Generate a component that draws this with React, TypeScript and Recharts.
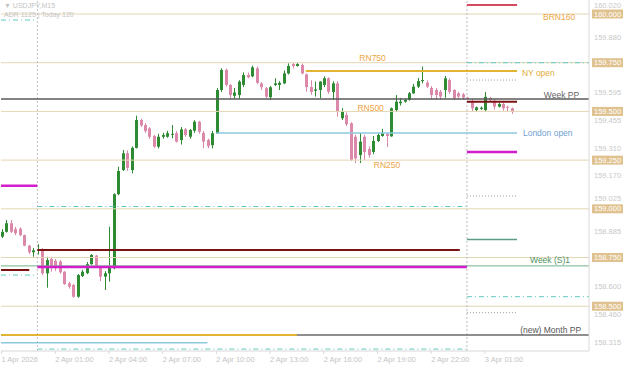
import { Bar, ComposedChart, ReferenceDot, ReferenceLine, XAxis, YAxis } from "recharts";

// USDJPY M15, hours counted from 2 Apr 00:00 (server time)
const FIRST_HOUR = -2;
const BAR_HOURS = 0.25;
const X_MIN = -2.03;
const X_MAX = 30.82;

const opens = [
  158.857, 158.882, 158.926, 158.896, 158.898, 158.865, 158.811, 158.777, 158.784, 158.789,
  158.669, 158.742, 158.732, 158.729, 158.677, 158.618, 158.609, 158.549, 158.655, 158.67,
  158.716, 158.76, 158.703, 158.652, 158.669, 158.695, 159.075, 159.199, 159.285, 159.199,
  159.313, 159.456, 159.43, 159.413, 159.374, 159.319, 159.37, 159.37, 159.383, 159.388,
  159.353, 159.408, 159.37, 159.401, 159.447, 159.39, 159.353, 159.327, 159.388, 159.61,
  159.713, 159.636, 159.58, 159.584, 159.636, 159.687, 159.68, 159.721, 159.644, 159.619,
  159.573, 159.636, 159.636, 159.644, 159.695, 159.743, 159.733, 159.738, 159.69, 159.625,
  159.606, 159.61, 159.636, 159.67, 159.6, 159.644, 159.465, 159.482, 159.439, 159.37,
  159.276, 159.37, 159.307, 159.292, 159.348, 159.374, 159.384, 159.372, 159.507, 159.542,
  159.55, 159.559, 159.593, 159.627, 159.656, 159.648, 159.62, 159.61, 159.601, 159.61,
  159.661, 159.61, 159.593, 159.588, 159.571, 159.55, 159.507, 159.513, 159.507, 159.569,
  159.555, 159.524, 159.538, 159.524, 159.516,
];
const highs = [
  158.896, 158.943, 158.943, 158.907, 158.905, 158.868, 158.815, 158.799, 158.818, 158.799,
  158.754, 158.754, 158.742, 158.737, 158.68, 158.625, 158.614, 158.665, 158.687, 158.727,
  158.768, 158.763, 158.706, 158.68, 158.908, 159.08, 159.216, 159.302, 159.3, 159.32,
  159.478, 159.463, 159.44, 159.42, 159.38, 159.385, 159.39, 159.4, 159.43, 159.4,
  159.42, 159.415, 159.41, 159.455, 159.452, 159.4, 159.36, 159.4, 159.62, 159.721,
  159.72, 159.64, 159.62, 159.66, 159.7, 159.7, 159.735, 159.73, 159.65, 159.625,
  159.63, 159.67, 159.655, 159.71, 159.747, 159.75, 159.75, 159.745, 159.695, 159.66,
  159.653, 159.655, 159.68, 159.675, 159.655, 159.655, 159.517, 159.495, 159.445, 159.38,
  159.389, 159.38, 159.32, 159.374, 159.39, 159.41, 159.39, 159.52, 159.584, 159.569,
  159.565, 159.6, 159.641, 159.672, 159.73, 159.66, 159.63, 159.62, 159.61, 159.682,
  159.67, 159.615, 159.6, 159.595, 159.575, 159.564, 159.525, 159.525, 159.6, 159.575,
  159.56, 159.545, 159.545, 159.53, 159.52,
];
const lows = [
  158.85, 158.878, 158.876, 158.865, 158.86, 158.808, 158.768, 158.754, 158.766, 158.66,
  158.595, 158.677, 158.68, 158.667, 158.609, 158.59, 158.544, 158.544, 158.65, 158.665,
  158.713, 158.699, 158.629, 158.583, 158.626, 158.69, 159.07, 159.194, 159.195, 159.182,
  159.31, 159.42, 159.39, 159.36, 159.313, 159.31, 159.36, 159.365, 159.362, 159.34,
  159.33, 159.37, 159.36, 159.39, 159.385, 159.311, 159.311, 159.31, 159.385, 159.6,
  159.627, 159.567, 159.565, 159.567, 159.625, 159.67, 159.675, 159.64, 159.61, 159.567,
  159.559, 159.63, 159.61, 159.64, 159.69, 159.72, 159.73, 159.69, 159.601, 159.585,
  159.576, 159.567, 159.625, 159.59, 159.56, 159.473, 159.456, 159.425, 159.245, 159.235,
  159.235, 159.251, 159.262, 159.28, 159.343, 159.37, 159.317, 159.37, 159.497, 159.53,
  159.545, 159.555, 159.59, 159.62, 159.644, 159.62, 159.564, 159.559, 159.56, 159.57,
  159.59, 159.559, 159.565, 159.56, 159.56, 159.502, 159.497, 159.507, 159.497, 159.55,
  159.51, 159.52, 159.504, 159.497, 159.487,
];
const closes = [
  158.882, 158.926, 158.882, 158.874, 158.865, 158.811, 158.777, 158.787, 158.789, 158.669,
  158.737, 158.708, 158.695, 158.674, 158.614, 158.6, 158.549, 158.66, 158.677, 158.716,
  158.763, 158.703, 158.652, 158.669, 158.703, 159.075, 159.194, 159.285, 159.21, 159.313,
  159.456, 159.428, 159.399, 159.37, 159.319, 159.37, 159.379, 159.388, 159.385, 159.345,
  159.408, 159.379, 159.405, 159.447, 159.396, 159.345, 159.322, 159.388, 159.61, 159.713,
  159.636, 159.584, 159.597, 159.653, 159.687, 159.675, 159.726, 159.647, 159.624, 159.576,
  159.624, 159.644, 159.647, 159.695, 159.733, 159.733, 159.743, 159.695, 159.625, 159.6,
  159.613, 159.653, 159.67, 159.601, 159.644, 159.498, 159.498, 159.434, 159.251, 159.259,
  159.345, 159.292, 159.276, 159.348, 159.379, 159.388, 159.374, 159.516, 159.55, 159.55,
  159.559, 159.593, 159.627, 159.656, 159.661, 159.627, 159.584, 159.584, 159.576, 159.67,
  159.601, 159.567, 159.576, 159.571, 159.565, 159.516, 159.521, 159.519, 159.575, 159.559,
  159.525, 159.538, 159.516, 159.519, 159.499,
];

const xTicks = [-2, 1, 4, 7, 10, 13, 16, 19, 22, 25];
const xTickLabels = [
  "1 Apr 2026", "2 Apr 01:00", "2 Apr 04:00", "2 Apr 07:00", "2 Apr 10:00",
  "2 Apr 13:00", "2 Apr 16:00", "2 Apr 19:00", "2 Apr 22:00", "3 Apr 01:00",
];
const priceTicks = [160.02, 159.88, 159.595, 159.455, 159.31, 159.17, 159.025, 158.885, 158.6, 158.46, 158.315];
const roundLevels = [160, 159.75, 159.5, 159.25, 159, 158.75, 158.5];
const daySeparators = [0, 24];

// [price, from hour, to hour]
const tealDashDot = [
  [159.969, -2.03, -0.1], [159.75, 24, X_MAX], [159.012, 0, 24],
  [158.549, 24, X_MAX], [158.66, -2.03, -0.1], [158.28, 0, 24],
];
const grayDotted = [[159.661, 24, 26.8], [159.066, 24, 26.8], [158.467, 24, 26.8]];
const redLines = [[160.046, 24, 26.8]];
const maroonLines = [[159.549, 24, 26.8], [158.789, 0, 23.6], [158.686, -2.03, -0.45]];
const goldLines = [[159.707, 15, 26.8], [158.352, -2.03, 14.5]];
const blueLines = [[159.389, 10, 26.8], [158.313, -2.03, 9.5]];
const magentaLines = [[159.292, 24, 26.8], [159.119, -2.03, 0], [158.701, 0, 24]];
const greenShort = [[158.843, 24, 26.8]];
const weekPP = 159.564;
const weekS1 = 158.707;
const monthPP = 158.352;

const annoText = ["BRN160", "NY open", "Week PP", "London open", "Week (S)1", "(new)  Month PP", "RN750", "RN500", "RN250"];
const annoHour = [28.25, 27.07, 30.27, 27.13, 29.76, 30.38, 18.73, 18.62, 19.54];
const annoPrice = [160, 159.707, 159.564, 159.389, 158.707, 158.352, 159.75, 159.5, 159.25];
const annoStyle = [
  { fill: "#eda544", anchor: "start", dy: 2.5 },
  { fill: "#e2ad3a", anchor: "start", dy: 2 },
  { fill: "#666", anchor: "end", dy: -3.5 },
  { fill: "#6f9fd2", anchor: "start", dy: 0 },
  { fill: "#4f8f5f", anchor: "end", dy: -6 },
  { fill: "#555", anchor: "end", dy: -5 },
  { fill: "#eda544", anchor: "middle", dy: -4.5 },
  { fill: "#eda544", anchor: "middle", dy: -3 },
  { fill: "#eda544", anchor: "middle", dy: 4.5 },
];

const bars = opens.map((open, i) => ({
  t: FIRST_HOUR + i * BAR_HOURS,
  open,
  high: highs[i],
  low: lows[i],
  close: closes[i],
}));

const UP = "#2e8b34";
const DOWN = "#dc88aa";
const FONT = "'Liberation Sans', Arial, sans-serif";

function Candle(props: any) {
  const { x, y, width, height, payload } = props;
  const top = Math.min(y, y + height);
  const h = Math.abs(height);
  const k = h / (payload.high - payload.low);
  const cx = Math.round(x + width / 2) + 0.5;
  const yo = top + (payload.high - payload.open) * k;
  const yc = top + (payload.high - payload.close) * k;
  const color = payload.close >= payload.open ? UP : DOWN;
  return (
    <g>
      <line x1={cx} x2={cx} y1={top} y2={top + h} stroke={color} strokeWidth={1} />
      <rect x={cx - 1.5} y={Math.min(yo, yc)} width={3} height={Math.max(1, Math.abs(yo - yc))} fill={color} />
    </g>
  );
}

function PriceTick({ x, y, payload }: any) {
  const v = payload.value;
  const round = roundLevels.includes(v);
  // a plain label crowded by a highlighted round level is nudged upward
  const crowded = !round && roundLevels.some((r) => Math.abs(r - v) < 0.035);
  return (
    <g>
      {round && <rect x={x + 3} y={y - 4.5} width={31} height={9} fill="#dfc28f" />}
      <text x={x + 5} y={y + (crowded ? -5 : 0)} dy={2.5} fontSize={7.5} fontFamily={FONT} fill={round ? "#fff" : "#c8c8c8"}>
        {v.toFixed(3)}
      </text>
    </g>
  );
}

function TimeTick({ x, y, payload }: any) {
  return (
    <text x={x} y={y} dy={6} fontSize={7.5} fontFamily={FONT} fill="#c4c4c4">
      {xTickLabels[xTicks.indexOf(payload.value)]}
    </text>
  );
}

const anno = (i: number) => ({ viewBox }: any) => (
  <text
    x={viewBox.x}
    y={viewBox.y + annoStyle[i].dy}
    textAnchor={annoStyle[i].anchor as any}
    dominantBaseline="central"
    fontSize={8.5}
    fontFamily={FONT}
    fill={annoStyle[i].fill}
  >
    {annoText[i]}
  </text>
);

function segs(list: number[][], stroke: string, width: number, dash?: string) {
  return list.map(([p, a, b], i) => (
    <ReferenceLine
      key={stroke + i}
      segment={[{ x: a, y: p }, { x: b, y: p }]}
      stroke={stroke}
      strokeWidth={width}
      strokeDasharray={dash}
      ifOverflow="hidden"
    />
  ));
}

export default function App() {
  return (
    <div style={{ position: "absolute", left: 0, top: 0, width: 625, height: 366, background: "#fff" }}>
      <div style={{ position: "absolute", left: 4, top: 1, fontFamily: FONT, fontSize: 7, color: "#c4c4c4", lineHeight: "9px", zIndex: 2 }}>
        <div>▼ USDJPY,M15</div>
        <div>ADR 1125 | Today 120</div>
      </div>
      <ComposedChart width={625} height={366} data={bars} margin={{ top: 0, right: 0, bottom: 0, left: 1 }}>
        <XAxis
          dataKey="t"
          type="number"
          domain={[X_MIN, X_MAX]}
          allowDataOverflow
          ticks={xTicks}
          tick={<TimeTick />}
          height={15}
          stroke="#d8d8d8"
          tickSize={3}
          tickMargin={2}
          interval={0}
        />
        <YAxis
          orientation="right"
          type="number"
          domain={[158.2702, 160.0719]}
          allowDataOverflow
          ticks={[...priceTicks, ...roundLevels]}
          tick={<PriceTick />}
          width={36}
          stroke="#d8d8d8"
          tickLine={false}
          tickSize={0}
          tickMargin={0}
          interval={0}
        />
        {roundLevels.map((p) => (
          <ReferenceLine key={"r" + p} y={p} stroke="#e4d6b4" strokeWidth={1} />
        ))}
        {daySeparators.map((h) => (
          <ReferenceLine key={"d" + h} x={h} stroke="#bdbdbd" strokeDasharray="2 2" />
        ))}
        {segs(tealDashDot, "#5fcac2", 1, "5 3 1 3")}
        {segs(grayDotted, "#9a9a9a", 1, "1 2")}
        <ReferenceLine y={weekPP} stroke="#5a5a5a" strokeWidth={1.5} />
        <ReferenceLine y={weekS1} stroke="#72b088" strokeWidth={1} />
        <ReferenceLine y={monthPP} stroke="#6a6a6a" strokeWidth={1.5} />
        {segs(redLines, "#d44a5e", 2)}
        {segs(maroonLines, "#7a1414", 2)}
        {segs(goldLines, "#e3b434", 2)}
        {segs(blueLines, "#8cc8de", 1.5)}
        {segs(magentaLines, "#d21fcb", 2.5)}
        {segs(greenShort, "#5d9a82", 1.5)}
        <Bar
          dataKey={(d: any) => [d.low, d.high]}
          barSize={3}
          shape={(p: any) => <Candle {...p} />}
          isAnimationActive={false}
        />
        {annoText.map((_, i) => (
          <ReferenceDot key={"a" + i} x={annoHour[i]} y={annoPrice[i]} r={0} stroke="none" fill="none" label={anno(i)} />
        ))}
      </ComposedChart>
    </div>
  );
}
